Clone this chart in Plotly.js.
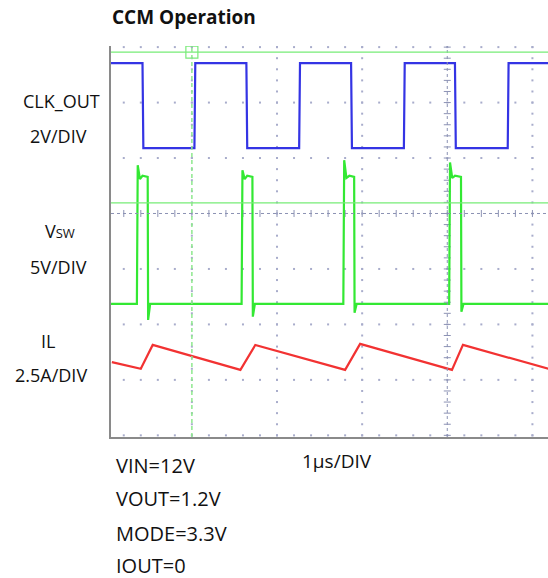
<!DOCTYPE html>
<html>
<head>
<meta charset="utf-8">
<script src="https://cdn.plot.ly/plotly-3.0.1.min.js"></script>
<style>html,body{margin:0;padding:0;background:#fff;}#chart{width:548px;height:578px;}</style>
</head>
<body>
<div id="chart"></div>
<script>
// ---- Data (time in µs = horizontal divisions, value in screen divisions) ----
const clkT = [-3.95, -3.58, -3.57, -2.97, -2.96, -2.36, -2.35, -1.74, -1.73, -1.13, -1.12, -0.51, -0.50, 0.09, 0.10, 0.71, 0.72, 1.19];
const clkV = [2.71, 2.71, 1.18, 1.18, 2.71, 2.71, 1.18, 1.18, 2.71, 2.71, 1.18, 1.18, 2.71, 2.71, 1.18, 1.18, 2.71, 2.71];

const vswT = [-3.95,
  -3.646, -3.636, -3.61, -3.58, -3.519, -3.514, -3.49,
  -2.416, -2.406, -2.38, -2.35, -2.289, -2.284, -2.26,
  -1.221, -1.211, -1.185, -1.15, -1.094, -1.089, -1.065,
   0.022,  0.032,  0.058,  0.09,  0.161,  0.166,  0.19,
   1.19];
const vswV = [-1.63,
  -1.63, 0.87, 0.62, 0.68, 0.66, -1.92, -1.63,
  -1.63, 0.78, 0.62, 0.68, 0.66, -1.86, -1.63,
  -1.63, 0.96, 0.64, 0.68, 0.66, -1.79, -1.63,
  -1.63, 0.92, 0.64, 0.68, 0.66, -1.77, -1.63,
  -1.63];

const ilT = [-3.94, -3.60, -3.46, -2.43, -2.255, -1.20, -1.024, 0.055, 0.184, 1.19];
const ilV = [-2.68, -2.80, -2.37, -2.82, -2.37, -2.82, -2.35, -2.82, -2.37, -2.80];

// cursors / reference levels
const cursorY = [2.91, 0.19];
const cursorX = -3.0;

// grid definition (divisions)
const gridRows = [-4, -3, -2, -1, 1, 2, 3];
const gridCols = [-3, -2, -1, 1];
const xMin = -3.95, xMax = 1.183, yMin = -4.03, yMax = 3.02;

// ---- layout geometry ----
const W = 548, H = 578, mL = 111, mR = 0, mT = 46, mB = 141;
const PW = W - mL - mR, PH = H - mT - mB;

// grid dots
const gx = [], gy = [];
for (const r of gridRows) for (let m = -19; m <= 5; m++) { gx.push(m * 0.2); gy.push(r); }
for (const c of gridCols) for (let n = -20; n <= 15; n++) { gx.push(c); gy.push(n * 0.2); }
// center ticks
const hx = [], hy = [], vx = [], vy = [];
for (let m = -19; m <= 5; m++) { hx.push(m * 0.2); hy.push(0); }
for (let n = -20; n <= 15; n++) { vx.push(0); vy.push(n * 0.2); }

const gridCol = '#a8accb';
const traces = [
  {x: gx, y: gy, mode: 'markers', marker: {symbol: 'square', size: 2, color: gridCol}, hoverinfo: 'skip'},
  {x: hx, y: hy, mode: 'markers', marker: {symbol: 'line-ns', size: 5, color: '#8c92b4', line: {width: 1, color: '#8c92b4'}}, hoverinfo: 'skip'},
  {x: vx, y: vy, mode: 'markers', marker: {symbol: 'line-ew', size: 5, color: '#8c92b4', line: {width: 1, color: '#8c92b4'}}, hoverinfo: 'skip'},
  {x: clkT, y: clkV, mode: 'lines', line: {color: '#3434e4', width: 2.2}},
  {x: vswT, y: vswV, mode: 'lines', line: {color: '#33e833', width: 2.2}},
  {x: ilT, y: ilV, mode: 'lines', line: {color: '#f23232', width: 2.2}},
  {x: [cursorX], y: [cursorY[0]], mode: 'markers', marker: {symbol: 'square-open', size: 12, color: '#7aea7a', line: {width: 1.2, color: '#7aea7a'}}}
];

const shapes = [
  {type: 'line', xref: 'x', yref: 'paper', x0: 0, x1: 0, y0: 0, y1: 1, line: {color: '#8c92b4', width: 1, dash: 'dot'}},
  {type: 'line', xref: 'paper', yref: 'y', x0: 0, x1: 1, y0: 0, y1: 0, line: {color: '#8c92b4', width: 1, dash: 'dot'}},
  {type: 'line', xref: 'paper', yref: 'y', x0: 0, x1: 1, y0: cursorY[0], y1: cursorY[0], line: {color: '#77ec77', width: 1.3}},
  {type: 'line', xref: 'paper', yref: 'y', x0: 0, x1: 1, y0: cursorY[1], y1: cursorY[1], line: {color: '#77ec77', width: 1.3}},
  {type: 'line', xref: 'x', yref: 'paper', x0: cursorX, x1: cursorX, y0: 0, y1: 1, line: {color: '#8ee88e', width: 1.5, dash: '4px,3px'}}
];

function ann(text, px, py, size, anchor, bold) {
  return {
    text: bold ? '<b>' + text + '</b>' : text,
    xref: 'paper', yref: 'paper',
    x: (px - mL) / PW, y: (H - mB - py) / PH,
    xanchor: anchor, yanchor: 'middle', showarrow: false,
    font: {family: 'Open Sans, sans-serif', size: size, color: '#111'}
  };
}

const annotations = [
  ann('CCM Operation', 110, 17.5, 19, 'left', true),
  ann('CLK_OUT', 61, 101, 18, 'center'),
  ann('2V/DIV', 58.7, 136, 18, 'center'),
  ann('V<span style="font-size:13px">SW</span>', 59.5, 231, 18, 'center'),
  ann('5V/DIV', 58.3, 266.5, 18, 'center'),
  ann('IL', 47.5, 341, 18, 'center'),
  ann('2.5A/DIV', 51.2, 375, 18, 'center'),
  ann('VIN=12V', 114, 465.3, 20, 'left'),
  ann('VOUT=1.2V', 114, 498.6, 20, 'left'),
  ann('MODE=3.3V', 114, 533.6, 20, 'left'),
  ann('IOUT=0', 114, 565.3, 20, 'left'),
  ann('1μs/DIV', 300, 461, 19, 'left')
];

const axisBase = {showgrid: false, zeroline: false, showticklabels: false, ticks: '', showline: true, linecolor: '#8a8a8a', linewidth: 2, mirror: false, fixedrange: true};

const layout = {
  width: W, height: H,
  margin: {l: mL, r: mR, t: mT, b: mB, pad: 0},
  paper_bgcolor: '#ffffff', plot_bgcolor: '#ffffff',
  showlegend: false,
  xaxis: Object.assign({range: [xMin, xMax]}, axisBase),
  yaxis: Object.assign({range: [yMin, yMax]}, axisBase),
  shapes: shapes,
  annotations: annotations
};

Plotly.newPlot('chart', traces, layout, {displayModeBar: false, staticPlot: true});
</script>
</body>
</html>
